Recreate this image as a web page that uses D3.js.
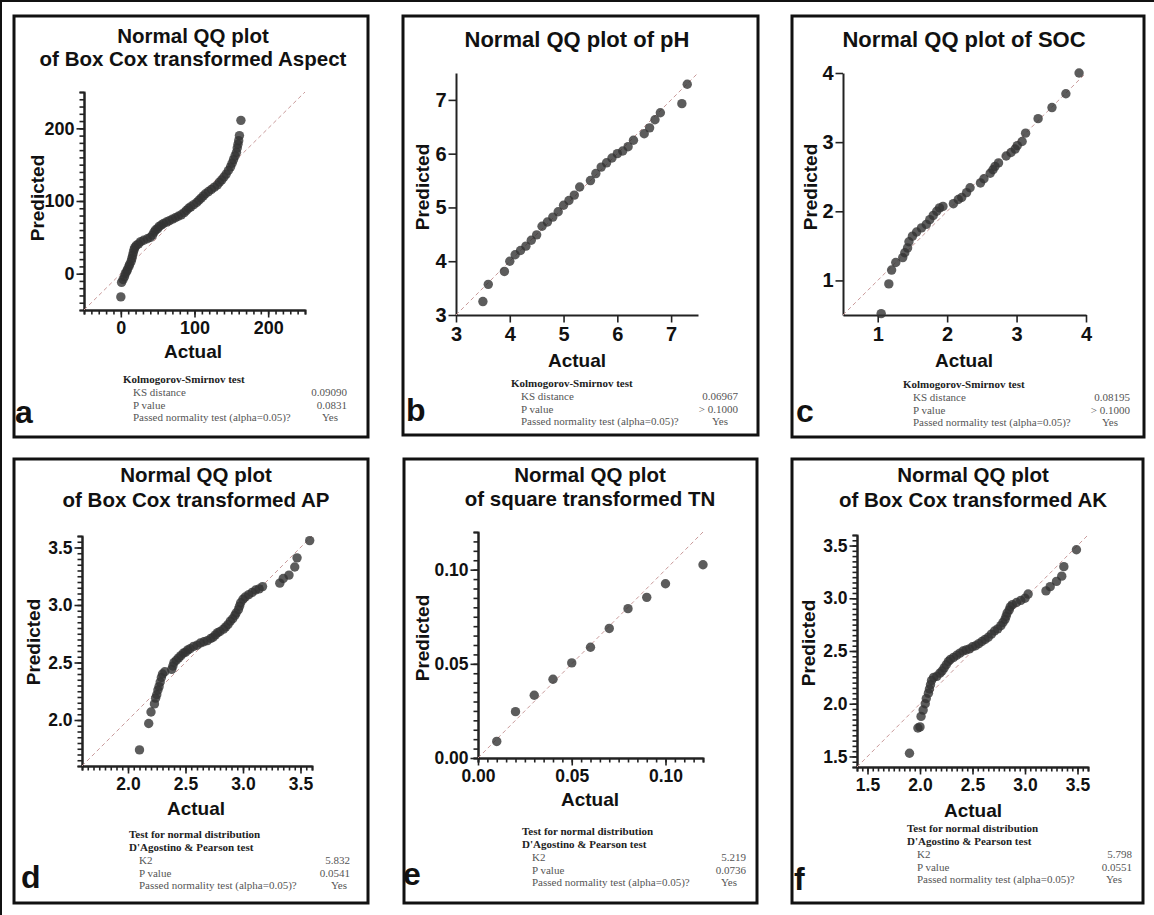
<!DOCTYPE html>
<html>
<head>
<meta charset="utf-8">
<script src="https://cdn.jsdelivr.net/npm/d3@7"></script>
<style>
body { margin: 0; background: #fff; }
svg { display: block; }
.sans { font-family: "Liberation Sans", Arial, sans-serif; font-weight: bold; fill: #111; }
.stats { font-family: "Liberation Serif", "Times New Roman", serif; font-size: 11px; fill: #555; }
.stats.head { font-weight: bold; fill: #222; }
</style>
</head>
<body>
<div id="wrapper"></div>
<script>
// values: [actual, predicted]
const aspectPoints = [[0,-32],[1,-12],[3,-8],[5,-4],[6,0],[8,3],[9,6],[11,10],[12,13],[14,17],[15,21],[16,25],[17,29],[18,33],[19,36],[21,39],[24,41],[27,44],[31,46],[36,48],[40,50],[43,53],[45,57],[47,60],[50,62],[52,65],[55,67],[58,69],[62,71],[66,73],[70,75],[74,77],[78,79],[82,81],[86,84],[89,87],[92,90],[95,92],[99,95],[103,98],[106,101],[109,104],[112,107],[115,110],[119,113],[123,116],[127,119],[131,122],[134,126],[137,129],[140,133],[143,137],[146,142],[149,147],[151,152],[153,157],[155,162],[157,167],[158,173],[159,178],[160,183],[161,190],[163,211]];
const phPoints = [[3.5,3.25],[3.6,3.57],[3.9,3.81],[4.0,4.0],[4.1,4.12],[4.2,4.2],[4.3,4.28],[4.4,4.39],[4.5,4.49],[4.6,4.65],[4.7,4.73],[4.8,4.82],[4.9,4.92],[5.0,5.04],[5.1,5.13],[5.2,5.23],[5.3,5.38],[5.5,5.5],[5.6,5.63],[5.7,5.75],[5.8,5.83],[5.9,5.92],[6.0,6.0],[6.1,6.05],[6.2,6.13],[6.3,6.25],[6.5,6.37],[6.6,6.48],[6.7,6.63],[6.8,6.76],[7.2,6.93],[7.3,7.29]];
const socPoints = [[1.05,0.52],[1.16,0.95],[1.2,1.15],[1.26,1.26],[1.36,1.33],[1.39,1.4],[1.43,1.47],[1.45,1.56],[1.5,1.64],[1.56,1.7],[1.63,1.76],[1.7,1.81],[1.75,1.88],[1.8,1.94],[1.85,2.0],[1.89,2.05],[1.94,2.07],[2.09,2.11],[2.16,2.17],[2.21,2.2],[2.28,2.27],[2.33,2.34],[2.48,2.41],[2.53,2.47],[2.62,2.55],[2.66,2.6],[2.69,2.65],[2.74,2.7],[2.85,2.8],[2.92,2.85],[2.98,2.9],[3.01,2.95],[3.08,3.01],[3.13,3.13],[3.31,3.34],[3.51,3.5],[3.71,3.7],[3.9,4.0]];
const apPoints = [[2.10,1.74],[2.18,1.97],[2.20,2.07],[2.23,2.14],[2.24,2.19],[2.25,2.22],[2.26,2.26],[2.27,2.29],[2.28,2.33],[2.29,2.37],[2.30,2.40],[2.32,2.42],[2.38,2.44],[2.39,2.47],[2.40,2.50],[2.42,2.52],[2.44,2.54],[2.46,2.56],[2.48,2.58],[2.50,2.59],[2.52,2.61],[2.54,2.62],[2.57,2.64],[2.60,2.65],[2.63,2.67],[2.66,2.68],[2.69,2.69],[2.72,2.71],[2.74,2.72],[2.76,2.74],[2.78,2.76],[2.80,2.77],[2.83,2.79],[2.85,2.81],[2.87,2.83],[2.89,2.86],[2.91,2.88],[2.93,2.91],[2.94,2.93],[2.96,2.96],[2.97,2.99],[2.98,3.02],[3.00,3.05],[3.02,3.07],[3.05,3.09],[3.08,3.11],[3.11,3.13],[3.14,3.14],[3.17,3.16],[3.32,3.19],[3.35,3.23],[3.40,3.26],[3.45,3.33],[3.47,3.41],[3.58,3.56]];
const tnPoints = [[0.010,0.0088],[0.020,0.0246],[0.030,0.0333],[0.040,0.0418],[0.050,0.0505],[0.060,0.0588],[0.070,0.0688],[0.080,0.0793],[0.090,0.0853],[0.100,0.0925],[0.120,0.1026]];
const akPoints = [[1.90,1.53],[1.98,1.77],[2.00,1.78],[2.01,1.88],[2.03,1.94],[2.05,2.00],[2.06,2.05],[2.08,2.10],[2.09,2.14],[2.10,2.18],[2.11,2.22],[2.13,2.25],[2.16,2.26],[2.19,2.29],[2.21,2.31],[2.23,2.34],[2.25,2.37],[2.27,2.40],[2.29,2.42],[2.32,2.44],[2.35,2.46],[2.38,2.48],[2.41,2.50],[2.44,2.51],[2.47,2.52],[2.50,2.54],[2.53,2.55],[2.56,2.57],[2.59,2.59],[2.62,2.61],[2.65,2.63],[2.68,2.66],[2.71,2.69],[2.74,2.71],[2.77,2.74],[2.79,2.77],[2.81,2.80],[2.82,2.83],[2.83,2.86],[2.85,2.89],[2.86,2.92],[2.88,2.94],[2.92,2.96],[2.96,2.98],[3.00,3.00],[3.03,3.04],[3.20,3.07],[3.24,3.11],[3.30,3.16],[3.35,3.21],[3.37,3.30],[3.49,3.46]];

// titles and test tables
const titles = [
    ["Normal QQ plot", "of Box Cox transformed Aspect"],
    ["Normal QQ plot of pH"],
    ["Normal QQ plot of SOC"],
    ["Normal QQ plot", "of Box Cox transformed AP"],
    ["Normal QQ plot", "of square transformed TN"],
    ["Normal QQ plot", "of Box Cox transformed AK"]
];
const letters = ["a", "b", "c", "d", "e", "f"];
const ksHead = ["Kolmogorov-Smirnov test"];
const dpHead = ["Test for normal distribution", "D'Agostino & Pearson test"];
const statRows = [
    [["KS distance", "0.09090"], ["P value", "0.0831"], ["Passed normality test (alpha=0.05)?", "Yes"]],
    [["KS distance", "0.06967"], ["P value", "> 0.1000"], ["Passed normality test (alpha=0.05)?", "Yes"]],
    [["KS distance", "0.08195"], ["P value", "> 0.1000"], ["Passed normality test (alpha=0.05)?", "Yes"]],
    [["K2", "5.832"], ["P value", "0.0541"], ["Passed normality test (alpha=0.05)?", "Yes"]],
    [["K2", "5.219"], ["P value", "0.0736"], ["Passed normality test (alpha=0.05)?", "Yes"]],
    [["K2", "5.798"], ["P value", "0.0551"], ["Passed normality test (alpha=0.05)?", "Yes"]]
];
const domains = [[-50, 250], [3, 7.5], [0.5, 4], [1.6, 3.6], [0, 0.12], [1.4, 3.6]];
const majorTicks = [[0, 100, 200], [3, 4, 5, 6, 7], [1, 2, 3, 4], [2.0, 2.5, 3.0, 3.5], [0, 0.05, 0.10], [1.5, 2.0, 2.5, 3.0, 3.5]];
const tickFormats = ["d", "d", "d", ".1f", ".2f", ".1f"];
const minorSteps = [10, 0, 0, 0.05, 0.005, 0.05];

// layout of each panel on the page
const layout = [
    { box: [14, 16, 368, 437], xr: [84, 305], yr: [310, 92], titleY: [43, 66], titleSize: 20.5, tickSize: 18, cx: 193,
      actualY: 358, predX: 37, predY: 198, statX: 123, statY: 383, valX: 347, yesX: 338, letterX: 15, letterY: 423 },
    { box: [403, 16, 758, 435], xr: [456, 698], yr: [315, 73], titleY: [47], titleSize: 22, tickSize: 20, cx: 577,
      actualY: 367, predX: 422, predY: 187, statX: 511, statY: 387, valX: 738, yesX: 728, letterX: 406, letterY: 421 },
    { box: [792, 16, 1144, 437], xr: [843, 1086], yr: [315, 73], titleY: [47], titleSize: 22, tickSize: 20, cx: 964,
      actualY: 367, predX: 810, predY: 187, statX: 903, statY: 388, valX: 1130, yesX: 1118, letterX: 796, letterY: 422 },
    { box: [14, 459, 368, 903], xr: [82, 312], yr: [766, 536], titleY: [482, 507], titleSize: 20.5, tickSize: 17.5, cx: 196,
      actualY: 815, predX: 33, predY: 642, statX: 129, statY: 838, valX: 350, yesX: 347, letterX: 21, letterY: 888 },
    { box: [404, 459, 757, 903], xr: [478, 703], yr: [758, 532], titleY: [482, 506], titleSize: 20.5, tickSize: 17.5, cx: 590,
      actualY: 806, predX: 422, predY: 638, statX: 522, statY: 835, valX: 746, yesX: 737, letterX: 403, letterY: 885 },
    { box: [792, 459, 1143, 903], xr: [857, 1088], yr: [767, 535], titleY: [482, 507], titleSize: 20.5, tickSize: 17.5, cx: 973,
      actualY: 817, predX: 808, predY: 643, statX: 907, statY: 832, valX: 1132, yesX: 1122, letterX: 794, letterY: 890 }
];
const allPoints = [aspectPoints, phPoints, socPoints, apPoints, tnPoints, akPoints];

const svg = d3.select("#wrapper").append("svg")
    .attr("width", 1154)
    .attr("height", 915);

// outer frame lines (top and left)
svg.append("line").attr("x1", 0).attr("y1", 1).attr("x2", 1154).attr("y2", 1).attr("stroke", "#111").attr("stroke-width", 2);
svg.append("line").attr("x1", 1).attr("y1", 0).attr("x2", 1).attr("y2", 915).attr("stroke", "#111").attr("stroke-width", 2);

function styleAxis(sel, size) {
    sel.attr("color", "#222");
    sel.select(".domain").attr("stroke-width", 2);
    sel.selectAll(".tick line").attr("stroke-width", 1.6);
    sel.selectAll(".tick text")
        .attr("class", "sans")
        .attr("font-size", size);
}

function drawPanel(i) {
    const L = layout[i];
    const dom = domains[i];
    const g = svg.append("g");

    g.append("rect")
        .attr("x", L.box[0]).attr("y", L.box[1])
        .attr("width", L.box[2] - L.box[0]).attr("height", L.box[3] - L.box[1])
        .attr("fill", "none").attr("stroke", "#111").attr("stroke-width", 3);

    const x = d3.scaleLinear().domain(dom).range(L.xr);
    const y = d3.scaleLinear().domain(dom).range(L.yr);

    // minor ticks
    if (minorSteps[i] > 0) {
        const n = Math.round((dom[1] - dom[0]) / minorSteps[i]);
        const minor = d3.range(n + 1).map(k => dom[0] + k * minorSteps[i]);
        g.append("g")
            .attr("transform", `translate(0,${L.yr[0]})`)
            .call(d3.axisBottom(x).tickValues(minor).tickSize(4.5).tickFormat(() => ""))
            .call(s => styleAxis(s, 1));
        g.append("g")
            .attr("transform", `translate(${L.xr[0]},0)`)
            .call(d3.axisLeft(y).tickValues(minor).tickSize(4.5).tickFormat(() => ""))
            .call(s => styleAxis(s, 1));
    }

    const fmt = d3.format(tickFormats[i]);
    g.append("g")
        .attr("transform", `translate(0,${L.yr[0]})`)
        .call(d3.axisBottom(x).tickValues(majorTicks[i]).tickFormat(fmt).tickSize(7.5).tickSizeOuter(0).tickPadding(4))
        .call(s => styleAxis(s, L.tickSize));
    g.append("g")
        .attr("transform", `translate(${L.xr[0]},0)`)
        .call(d3.axisLeft(y).tickValues(majorTicks[i]).tickFormat(fmt).tickSize(7.5).tickSizeOuter(0).tickPadding(2))
        .call(s => styleAxis(s, L.tickSize));

    // identity line
    g.append("line")
        .attr("x1", x(dom[0])).attr("y1", y(dom[0]))
        .attr("x2", x(dom[1])).attr("y2", y(dom[1]))
        .attr("stroke", "#c99a9a").attr("stroke-width", 1)
        .attr("stroke-dasharray", "4,3");

    g.append("g").selectAll("circle")
        .data(allPoints[i])
        .join("circle")
        .attr("cx", d => x(d[0]))
        .attr("cy", d => y(d[1]))
        .attr("r", 4.7)
        .attr("fill", "#333")
        .attr("fill-opacity", 0.8);

    // title
    titles[i].forEach((t, k) => {
        g.append("text").attr("class", "sans")
            .attr("x", L.cx).attr("y", L.titleY[k])
            .attr("text-anchor", "middle")
            .attr("font-size", L.titleSize)
            .text(t);
    });

    g.append("text").attr("class", "sans")
        .attr("x", L.cx).attr("y", L.actualY)
        .attr("text-anchor", "middle").attr("font-size", 19)
        .text("Actual");
    g.append("text").attr("class", "sans")
        .attr("transform", `translate(${L.predX},${L.predY}) rotate(-90)`)
        .attr("text-anchor", "middle").attr("dominant-baseline", "central")
        .attr("font-size", 19)
        .text("Predicted");

    // test table
    const head = i < 3 ? ksHead : dpHead;
    let yy = L.statY;
    head.forEach(h => {
        g.append("text").attr("class", "stats head").attr("x", L.statX).attr("y", yy).text(h);
        yy += 13;
    });
    statRows[i].forEach(r => {
        g.append("text").attr("class", "stats").attr("x", L.statX + 10).attr("y", yy).text(r[0]);
        g.append("text").attr("class", "stats")
            .attr("x", r[1] === "Yes" ? L.yesX : L.valX).attr("y", yy)
            .attr("text-anchor", "end").text(r[1]);
        yy += 12.5;
    });

    g.append("text").attr("class", "sans")
        .attr("x", L.letterX).attr("y", L.letterY)
        .attr("font-size", 32)
        .text(letters[i]);
}

for (let i = 0; i < 6; i++) drawPanel(i);
</script>
</body>
</html>
